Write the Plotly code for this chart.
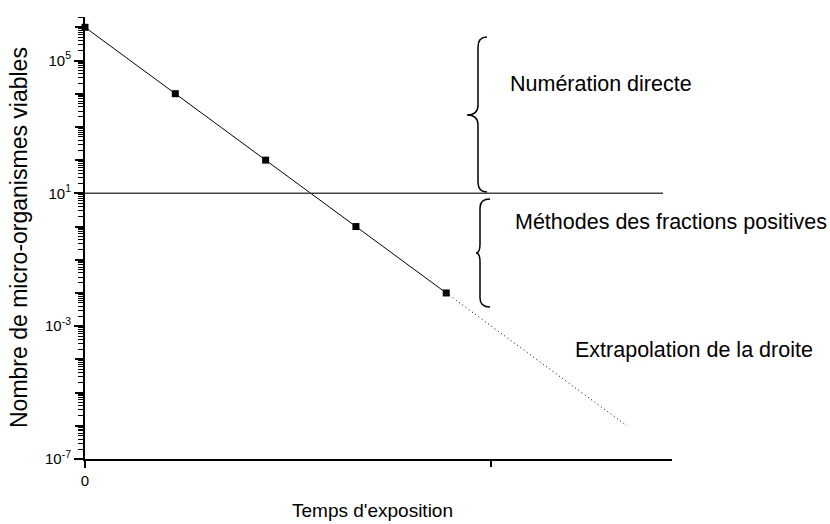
import plotly.graph_objects as go

# ---- data ----
exposure_time = [0, 1, 2, 3, 4]
viable_counts = [1e6, 1e4, 1e2, 1e0, 1e-2]
extrap_time = [4, 6]
extrap_counts = [1e-2, 1e-6]
limit_time = [0, 6.4]
limit_value = [10, 10]
y_major_exp = list(range(-7, 7))
y_labeled_exp = [-7, -3, 1, 5]
x_label_vals = [0]
x_label_text = ["0"]
x_plain_ticks = [4.5]

FONT = "Liberation Sans, Arial, sans-serif"

# layout geometry (pixels)
W, H = 830, 524
ML, MR, MT, MB = 85, 158, 17, 65
PW = W - ML - MR
PH = H - MT - MB
Y_RANGE = [-7, 6.31]
X_RANGE = [0, 6.5]


def px2paper(px, py):
    return (px - ML) / PW, (H - MB - py) / PH


def brace_path(x_back, x_stem, x_tip, y_top, y_bot, y_mid, r=9):
    def P(x, y):
        a, b = px2paper(x, y)
        return f"{a:.5f},{b:.5f}"
    return (f"M {P(x_back, y_top)} Q {P(x_stem, y_top)} {P(x_stem, y_top + r)} "
            f"L {P(x_stem, y_mid - r)} Q {P(x_stem, y_mid)} {P(x_tip, y_mid)} "
            f"Q {P(x_stem, y_mid)} {P(x_stem, y_mid + r)} "
            f"L {P(x_stem, y_bot - r)} Q {P(x_stem, y_bot)} {P(x_back, y_bot)}")


fig = go.Figure()

# limit line drawn on the overlay axes (identical ranges) so they render their ticks
fig.add_trace(go.Scatter(
    x=limit_time, y=limit_value, mode="lines", xaxis="x2", yaxis="y2",
    line=dict(color="#444444", width=1.5), showlegend=False, hoverinfo="skip"))

fig.add_trace(go.Scatter(
    x=extrap_time, y=extrap_counts, mode="lines",
    line=dict(color="black", width=1, dash="1px,3px"), showlegend=False))

fig.add_trace(go.Scatter(
    x=exposure_time, y=viable_counts, mode="lines+markers",
    line=dict(color="black", width=1),
    marker=dict(symbol="square", size=7, color="black"),
    cliponaxis=False, showlegend=False))

minor_vals = [m * 10 ** e for e in range(-7, 7) for m in range(2, 10)]
tickfont = dict(family=FONT, size=15, color="black")

fig.update_layout(
    yaxis=dict(
        type="log", range=Y_RANGE,
        tickmode="array", tickvals=[10 ** e for e in y_labeled_exp],
        ticktext=[f"10<sup>{e}</sup>" for e in y_labeled_exp],
        ticks="outside", ticklen=9, tickwidth=1.5, tickcolor="black",
        minor=dict(tickmode="array", tickvals=minor_vals, ticks="outside",
                   ticklen=5, tickwidth=1, tickcolor="black", showgrid=False),
        showline=True, linecolor="black", linewidth=2, showgrid=False, zeroline=False,
        tickfont=tickfont),
    yaxis2=dict(
        type="log", range=Y_RANGE, overlaying="y", side="left", anchor="x",
        tickmode="array", tickvals=[10 ** e for e in y_major_exp],
        ticks="outside", ticklen=9, tickwidth=1.5, tickcolor="black",
        showticklabels=False, showline=False, showgrid=False, zeroline=False),
    xaxis=dict(
        range=X_RANGE, tickmode="array", tickvals=x_label_vals, ticktext=x_label_text,
        ticks="outside", ticklen=7, tickwidth=1.5, tickcolor="black",
        showline=True, linecolor="black", linewidth=2, showgrid=False, zeroline=False,
        tickfont=tickfont),
    xaxis2=dict(
        range=X_RANGE, overlaying="x", side="bottom", anchor="y",
        tickmode="array", tickvals=x_plain_ticks,
        ticks="outside", ticklen=7, tickwidth=1.5, tickcolor="black",
        showticklabels=False, showline=False, showgrid=False, zeroline=False),
)

shapes = [
    dict(type="path", xref="paper", yref="paper",
         path=brace_path(487, 478, 467, 37, 192, 115, r=10),
         line=dict(color="black", width=1.5)),
    dict(type="path", xref="paper", yref="paper",
         path=brace_path(490, 480, 476, 199, 307, 253, r=9),
         line=dict(color="black", width=1.5)),
]


def ann(text, px, py, size=21.5, xanchor="left", angle=0):
    x, y = px2paper(px, py)
    return dict(text=text, x=x, y=y, xref="paper", yref="paper", showarrow=False,
                xanchor=xanchor, yanchor="middle", textangle=angle,
                font=dict(family=FONT, size=size, color="black"))


annotations = [
    ann("Numération directe", 508, 84),
    ann("Méthodes des fractions positives", 513, 222),
    ann("Extrapolation de la droite", 573, 350),
    ann("Temps d'exposition", 372, 510, size=19, xanchor="center"),
    ann("Nombre de micro-organismes viables", 19, 238, size=23, xanchor="center", angle=-90),
]

fig.update_layout(
    width=W, height=H,
    margin=dict(l=ML, r=MR, t=MT, b=MB, pad=0),
    plot_bgcolor="white", paper_bgcolor="white",
    shapes=shapes, annotations=annotations,
    font=dict(family=FONT, color="black"),
)

fig.write_html("out.html", config={"displayModeBar": False},
               post_script="document.body.style.margin='0';")
